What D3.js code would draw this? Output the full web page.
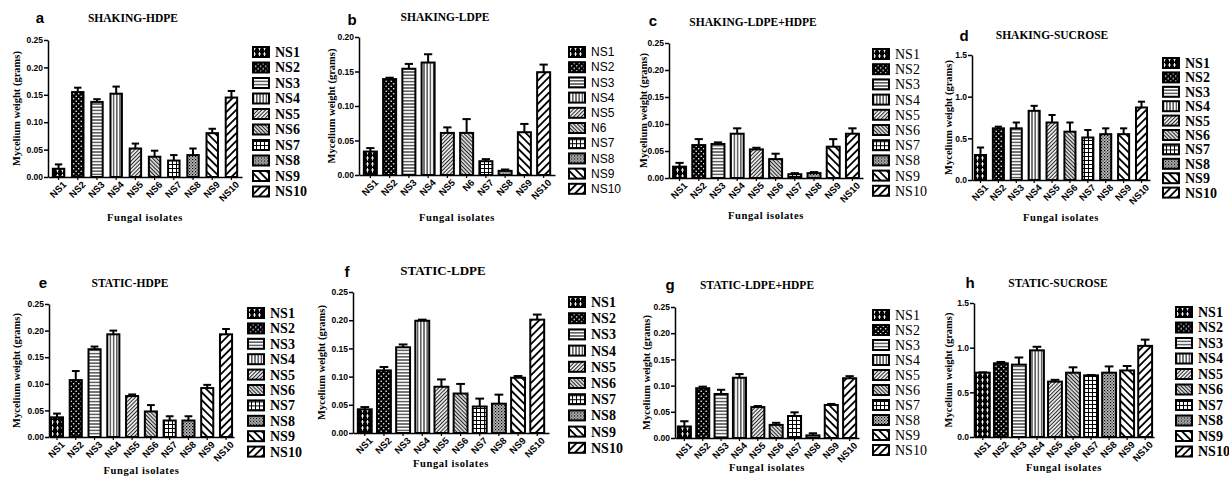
<!DOCTYPE html>
<html>
<head>
<meta charset="utf-8">
<script src="https://cdn.jsdelivr.net/npm/d3@7"></script>
<style>
  body { margin: 0; background: #fff; }
  svg { display: block; }
  .serif { font-family: "Liberation Serif", "Times New Roman", serif; }
  .sans { font-family: "Liberation Sans", Arial, sans-serif; }
</style>
</head>
<body>
<div id="chart"></div>
<script>
// isolate names (panel b uses "N6" for the sixth one)
var isolates = ["NS1", "NS2", "NS3", "NS4", "NS5", "NS6", "NS7", "NS8", "NS9", "NS10"];
var isolatesB = ["NS1", "NS2", "NS3", "NS4", "NS5", "N6", "NS7", "NS8", "NS9", "NS10"];

// mycelium weight (grams), mean and SEM
var shakingHdpe = [0.015, 0.155, 0.137, 0.152, 0.052, 0.037, 0.030, 0.040, 0.080, 0.145];
var shakingHdpeErr = [0.008, 0.008, 0.005, 0.013, 0.009, 0.011, 0.010, 0.012, 0.008, 0.012];

var shakingLdpe = [0.034, 0.139, 0.154, 0.163, 0.061, 0.061, 0.020, 0.006, 0.062, 0.149];
var shakingLdpeErr = [0.005, 0.002, 0.007, 0.012, 0.008, 0.020, 0.003, 0.002, 0.012, 0.011];

var shakingMix = [0.021, 0.061, 0.063, 0.082, 0.053, 0.035, 0.007, 0.009, 0.058, 0.082];
var shakingMixErr = [0.007, 0.011, 0.003, 0.010, 0.003, 0.010, 0.002, 0.002, 0.014, 0.010];

var shakingSucrose = [0.30, 0.62, 0.62, 0.83, 0.69, 0.58, 0.51, 0.55, 0.55, 0.87];
var shakingSucroseErr = [0.09, 0.02, 0.07, 0.06, 0.09, 0.11, 0.09, 0.07, 0.07, 0.07];

var staticHdpe = [0.037, 0.107, 0.165, 0.193, 0.077, 0.048, 0.031, 0.031, 0.092, 0.193];
var staticHdpeErr = [0.007, 0.017, 0.005, 0.007, 0.003, 0.012, 0.008, 0.008, 0.006, 0.010];

var staticLdpe = [0.042, 0.111, 0.152, 0.199, 0.082, 0.070, 0.047, 0.052, 0.098, 0.201];
var staticLdpeErr = [0.004, 0.006, 0.005, 0.002, 0.013, 0.017, 0.014, 0.016, 0.003, 0.009];

var staticMix = [0.022, 0.095, 0.084, 0.115, 0.059, 0.025, 0.042, 0.005, 0.063, 0.114];
var staticMixErr = [0.010, 0.003, 0.008, 0.007, 0.002, 0.004, 0.007, 0.004, 0.002, 0.004];

var staticSucrose = [0.72, 0.825, 0.81, 0.97, 0.62, 0.72, 0.69, 0.72, 0.745, 1.02];
var staticSucroseErr = [0.004, 0.015, 0.08, 0.04, 0.02, 0.06, 0.004, 0.07, 0.05, 0.07];

var ticksSmall = [0, 0.05, 0.10, 0.15, 0.20, 0.25];
var ticksB = [0, 0.05, 0.10, 0.15, 0.20];
var ticksSucrose = [0, 0.5, 1.0, 1.5];

// panel layout
var panels = [
  { letter: "a", title: "SHAKING-HDPE", names: isolates, values: shakingHdpe, errs: shakingHdpeErr,
    ticks: ticksSmall, fmt: ".2f", left: 48, right: 242, top: 40, bottom: 177, pi: 0.3, po: 0.2,
    titleX: 133, titleY: 22, letterX: 40, letterY: 23, ylabX: 16, xlabY: 221,
    legX: 252, legY: 52, legStep: 15.5, legFont: "serif", legWeight: "bold" },
  { letter: "b", title: "SHAKING-LDPE", names: isolatesB, values: shakingLdpe, errs: shakingLdpeErr,
    ticks: ticksB, fmt: ".2f", left: 359, right: 555, top: 37, bottom: 175, pi: 0.22, po: 0.2,
    titleX: 445, titleY: 21, letterX: 352, letterY: 25, ylabX: 331, xlabY: 221,
    legX: 568, legY: 52, legStep: 15.2, legFont: "sans", legWeight: "normal" },
  { letter: "c", title: "SHAKING-LDPE+HDPE", names: isolates, values: shakingMix, errs: shakingMixErr,
    ticks: ticksSmall, fmt: ".2f", left: 669, right: 863, top: 43, bottom: 178, pi: 0.22, po: 0.16,
    titleX: 753, titleY: 26, letterX: 653, letterY: 26, ylabX: 643, xlabY: 219,
    legX: 872, legY: 54, legStep: 15.2, legFont: "serif", legWeight: "normal" },
  { letter: "d", title: "SHAKING-SUCROSE", names: isolates, values: shakingSucrose, errs: shakingSucroseErr,
    ticks: ticksSucrose, fmt: ".1f", left: 972, right: 1150, top: 55, bottom: 180, pi: 0.27, po: 0.11,
    titleX: 1052, titleY: 39, letterX: 964, letterY: 41, ylabX: 948, xlabY: 221,
    legX: 1162, legY: 63, legStep: 14.4, legFont: "serif", legWeight: "bold" },
  { letter: "e", title: "STATIC-HDPE", names: isolates, values: staticHdpe, errs: staticHdpeErr,
    ticks: ticksSmall, fmt: ".2f", left: 49, right: 234, top: 304, bottom: 437, pi: 0.25, po: 0.05,
    titleX: 130, titleY: 287, letterX: 43, letterY: 288, ylabX: 16, xlabY: 474,
    legX: 247, legY: 313, legStep: 15.4, legFont: "serif", legWeight: "bold" },
  { letter: "f", title: "STATIC-LDPE", names: isolates, values: staticLdpe, errs: staticLdpeErr,
    ticks: ticksSmall, fmt: ".2f", left: 353, right: 549, top: 292, bottom: 433, pi: 0.17, po: 0.2,
    titleX: 443, titleY: 275, letterX: 347, letterY: 277, ylabX: 321, xlabY: 467,
    legX: 568, legY: 302, legStep: 16.2, legFont: "serif", legWeight: "bold" },
  { letter: "g", title: "STATIC-LDPE+HDPE", names: isolates, values: staticMix, errs: staticMixErr,
    ticks: ticksSmall, fmt: ".2f", left: 675, right: 859, top: 307, bottom: 438, pi: 0.18, po: 0.1,
    titleX: 757, titleY: 289, letterX: 670, letterY: 290, ylabX: 646, xlabY: 471,
    legX: 872, legY: 315, legStep: 15, legFont: "serif", legWeight: "normal" },
  { letter: "h", title: "STATIC-SUCROSE", names: isolates, values: staticSucrose, errs: staticSucroseErr,
    ticks: ticksSucrose, fmt: ".1f", left: 974, right: 1154, top: 303, bottom: 437, pi: 0.12, po: 0.05,
    titleX: 1058, titleY: 287, letterX: 970, letterY: 288, ylabX: 948, xlabY: 471,
    legX: 1175, legY: 312, legStep: 15.5, legFont: "serif", legWeight: "bold" }
];

var svg = d3.select("#chart").append("svg")
  .attr("width", 1229)
  .attr("height", 483);

svg.append("rect").attr("width", 1229).attr("height", 483).attr("fill", "#fff");

// fill patterns, one per isolate
var defs = svg.append("defs");

function pattern(id, w, h, bg, transform) {
  var p = defs.append("pattern")
    .attr("id", id)
    .attr("patternUnits", "userSpaceOnUse")
    .attr("width", w)
    .attr("height", h);
  if (transform) p.attr("patternTransform", transform);
  p.append("rect").attr("width", w).attr("height", h).attr("fill", bg);
  return p;
}

// NS1: black with small white crosses
var p1 = pattern("p0", 5, 6, "#000");
p1.append("line").attr("x1", 2.5).attr("y1", 0).attr("x2", 2.5).attr("y2", 4.5).attr("stroke", "#fff").attr("stroke-width", 0.9);
p1.append("line").attr("x1", 1).attr("y1", 2).attr("x2", 4).attr("y2", 2).attr("stroke", "#fff").attr("stroke-width", 0.9);
// NS2: black with white dots
var p2 = pattern("p1", 5, 5, "#000");
p2.append("circle").attr("cx", 1.2).attr("cy", 1.2).attr("r", 0.8).attr("fill", "#fff");
p2.append("circle").attr("cx", 3.7).attr("cy", 3.7).attr("r", 0.8).attr("fill", "#fff");
// NS3: horizontal lines
var p3 = pattern("p2", 4, 3.2, "#fff");
p3.append("line").attr("x1", 0).attr("y1", 1.6).attr("x2", 4).attr("y2", 1.6).attr("stroke", "#000").attr("stroke-width", 1);
// NS4: vertical lines
var p4 = pattern("p3", 3.2, 4, "#fff");
p4.append("line").attr("x1", 1.6).attr("y1", 0).attr("x2", 1.6).attr("y2", 4).attr("stroke", "#000").attr("stroke-width", 1);
// NS5: fine "/" hatch
var p5 = pattern("p4", 2.7, 4, "#f2f2f2", "rotate(45)");
p5.append("line").attr("x1", 1.35).attr("y1", 0).attr("x2", 1.35).attr("y2", 4).attr("stroke", "#222").attr("stroke-width", 1);
// NS6: fine "\" hatch
var p6 = pattern("p5", 2.7, 4, "#e8e8e8", "rotate(-45)");
p6.append("line").attr("x1", 1.35).attr("y1", 0).attr("x2", 1.35).attr("y2", 4).attr("stroke", "#222").attr("stroke-width", 1.1);
// NS7: grid
var p7 = pattern("p6", 4, 4, "#fff");
p7.append("line").attr("x1", 0).attr("y1", 0.5).attr("x2", 4).attr("y2", 0.5).attr("stroke", "#000").attr("stroke-width", 1);
p7.append("line").attr("x1", 0.5).attr("y1", 0).attr("x2", 0.5).attr("y2", 4).attr("stroke", "#000").attr("stroke-width", 1);
// NS8: grey stipple
var p8 = pattern("p7", 3, 3, "#bbb");
p8.append("rect").attr("x", 0).attr("y", 0).attr("width", 1.2).attr("height", 1.2).attr("fill", "#000");
p8.append("rect").attr("x", 1.5).attr("y", 1.5).attr("width", 1.2).attr("height", 1.2).attr("fill", "#333");
// NS9: wide "\" stripes
var p9 = pattern("p8", 5.5, 6, "#fff", "rotate(-45)");
p9.append("line").attr("x1", 2.75).attr("y1", 0).attr("x2", 2.75).attr("y2", 6).attr("stroke", "#000").attr("stroke-width", 1.8);
// NS10: wide "/" stripes
var p10 = pattern("p9", 5.5, 6, "#fff", "rotate(45)");
p10.append("line").attr("x1", 2.75).attr("y1", 0).attr("x2", 2.75).attr("y2", 6).attr("stroke", "#000").attr("stroke-width", 1.8);

function fillFor(i) {
  return "url(#p" + i + ")";
}

panels.forEach(function (p) {
  var g = svg.append("g");
  var maxV = p.ticks[p.ticks.length - 1];

  var x = d3.scaleBand()
    .domain(p.names)
    .range([p.left, p.right])
    .paddingInner(p.pi)
    .paddingOuter(p.po);

  var y = d3.scaleLinear()
    .domain([0, maxV])
    .range([p.bottom, p.top]);

  var rows = p.names.map(function (n, i) {
    return { name: n, value: p.values[i], err: p.errs[i], idx: i };
  });

  // error bars (upper only)
  var cap = x.bandwidth() * 0.55;
  g.selectAll(".err")
    .data(rows)
    .enter()
    .append("line")
    .attr("x1", function (d) { return x(d.name) + x.bandwidth() / 2; })
    .attr("x2", function (d) { return x(d.name) + x.bandwidth() / 2; })
    .attr("y1", function (d) { return y(d.value); })
    .attr("y2", function (d) { return y(d.value + d.err); })
    .attr("stroke", "#000")
    .attr("stroke-width", 2);
  g.selectAll(".cap")
    .data(rows)
    .enter()
    .append("line")
    .attr("x1", function (d) { return x(d.name) + x.bandwidth() / 2 - cap / 2; })
    .attr("x2", function (d) { return x(d.name) + x.bandwidth() / 2 + cap / 2; })
    .attr("y1", function (d) { return y(d.value + d.err); })
    .attr("y2", function (d) { return y(d.value + d.err); })
    .attr("stroke", "#000")
    .attr("stroke-width", 2);

  // bars
  g.selectAll(".bar")
    .data(rows)
    .enter()
    .append("rect")
    .attr("x", function (d) { return x(d.name) + 1; })
    .attr("width", x.bandwidth() - 2)
    .attr("y", function (d) { return y(d.value); })
    .attr("height", function (d) { return y(0) - y(d.value); })
    .attr("fill", function (d) { return fillFor(d.idx); })
    .attr("stroke", "#000")
    .attr("stroke-width", 2);

  // y axis
  var yAxis = g.append("g")
    .attr("transform", "translate(" + p.left + ",0)")
    .call(d3.axisLeft(y).tickValues(p.ticks).tickFormat(d3.format(p.fmt)).tickSize(4).tickSizeOuter(0));
  yAxis.select(".domain").attr("stroke-width", 1.5);
  yAxis.selectAll(".tick line").attr("stroke-width", 1.5);
  yAxis.selectAll("text")
    .attr("class", "sans")
    .attr("font-size", 8.5)
    .attr("font-weight", "bold")
    .attr("x", -5);

  // x axis
  var xAxis = g.append("g")
    .attr("transform", "translate(0," + p.bottom + ")")
    .call(d3.axisBottom(x).tickSize(3).tickSizeOuter(0));
  xAxis.select(".domain").attr("stroke-width", 1.5);
  xAxis.selectAll(".tick line").attr("stroke-width", 1.2);
  xAxis.selectAll("text")
    .attr("class", "sans")
    .attr("font-size", 9.5)
    .attr("font-weight", "bold")
    .attr("x", 0)
    .attr("y", 8.5)
    .attr("dy", "0.35em")
    .attr("transform", "rotate(-45)")
    .style("text-anchor", "end");

  // titles and labels
  g.append("text")
    .attr("class", "serif")
    .attr("x", p.titleX)
    .attr("y", p.titleY)
    .attr("text-anchor", "middle")
    .attr("font-size", p.letter == "f" ? 13 : 11.5)
    .attr("font-weight", "bold")
    .text(p.title);

  g.append("text")
    .attr("class", "sans")
    .attr("x", p.letterX)
    .attr("y", p.letterY)
    .attr("text-anchor", "middle")
    .attr("font-size", 15)
    .attr("font-weight", "bold")
    .text(p.letter);

  g.append("text")
    .attr("class", "serif")
    .attr("transform", "translate(" + p.ylabX + "," + (p.top + p.bottom) / 2 + ") rotate(-90)")
    .attr("text-anchor", "middle")
    .attr("dy", "0.35em")
    .attr("font-size", 10.5)
    .attr("font-weight", "bold")
    .text("Mycelium weight (grams)");

  g.append("text")
    .attr("class", "serif")
    .attr("x", (p.left + p.right) / 2)
    .attr("y", p.xlabY)
    .attr("text-anchor", "middle")
    .attr("font-size", 10.5)
    .attr("font-weight", "bold")
    .attr("letter-spacing", 0.6)
    .text("Fungal isolates");

  // legend
  var leg = g.selectAll(".leg")
    .data(rows)
    .enter()
    .append("g")
    .attr("transform", function (d) {
      return "translate(" + p.legX + "," + (p.legY + d.idx * p.legStep) + ")";
    });
  leg.append("rect")
    .attr("x", 1)
    .attr("y", -5)
    .attr("width", 16)
    .attr("height", 10)
    .attr("fill", function (d) { return fillFor(d.idx); })
    .attr("stroke", "#000")
    .attr("stroke-width", 2);
  leg.append("text")
    .attr("class", p.legFont)
    .attr("x", 23)
    .attr("dy", "0.35em")
    .attr("font-size", p.legFont == "sans" ? 12 : 14)
    .attr("font-weight", p.legWeight)
    .text(function (d) { return d.name; });
});
</script>
</body>
</html>
